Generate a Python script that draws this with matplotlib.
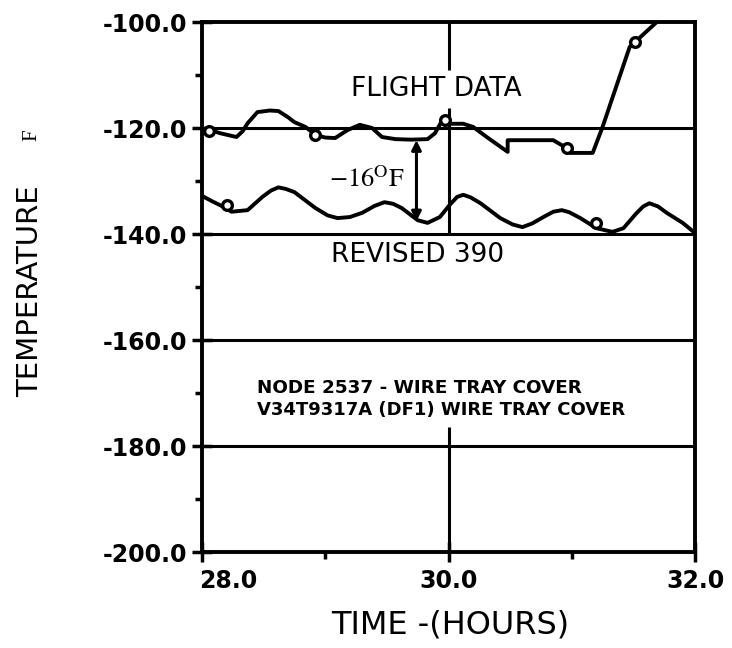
import matplotlib
matplotlib.use("Agg")
import matplotlib.pyplot as plt
from matplotlib import font_manager as fm
from matplotlib.transforms import ScaledTranslation

# ---------------- data ----------------
flight_t = [28.05, 28.15, 28.28, 28.33, 28.37, 28.45, 28.55, 28.62, 28.70, 28.75, 28.84, 28.92,
            29.00, 29.08, 29.18, 29.28, 29.38, 29.46, 29.57, 29.70, 29.83, 29.89, 29.96,
            30.01, 30.12, 30.20, 30.31, 30.48, 30.48, 30.70, 30.85, 30.96, 30.99, 31.17,
            31.25, 31.47, 31.69]
flight_v = [-120.3, -121.0, -121.7, -120.6, -119.1, -117.0, -116.7, -116.8, -118.0, -118.9, -119.8, -121.3,
            -121.8, -121.9, -120.4, -119.4, -120.0, -121.7, -122.1, -122.2, -122.1, -121.0, -118.1,
            -119.2, -119.2, -119.8, -121.7, -124.5, -122.3, -122.3, -122.3, -123.8, -124.7, -124.7,
            -119.8, -104.7, -100.0]

rev_t = [28.00, 28.08, 28.15, 28.24, 28.37, 28.49, 28.56, 28.62, 28.68, 28.75, 28.92, 29.02,
         29.10, 29.20, 29.30, 29.40, 29.48, 29.55, 29.62, 29.75, 29.83, 29.93, 30.01, 30.07,
         30.12, 30.18, 30.26, 30.42, 30.52, 30.60, 30.68, 30.77, 30.85, 30.92, 30.98, 31.07,
         31.20, 31.33, 31.42, 31.52, 31.58, 31.63, 31.70, 31.77, 31.90, 32.00]
rev_v = [-132.8, -133.8, -134.6, -135.8, -135.5, -133.0, -131.8, -131.2, -131.5, -132.1, -135.1, -136.5,
         -137.0, -136.8, -136.0, -134.7, -134.0, -134.3, -135.1, -137.4, -137.9, -136.8, -134.5, -133.0,
         -132.6, -133.1, -134.2, -137.0, -138.2, -138.7, -138.0, -136.8, -135.8, -135.5, -135.9, -137.0,
         -138.9, -139.6, -138.9, -136.2, -134.8, -134.2, -134.8, -136.0, -137.9, -139.8]

flight_mark_t = [28.06, 28.92, 29.97, 30.96, 31.51]
flight_mark_v = [-120.5, -121.3, -118.4, -123.8, -103.8]
rev_mark_t = [28.20, 31.20]
rev_mark_v = [-134.6, -138.0]

x_ticks = [28.0, 30.0, 32.0]
x_minor = [29.0, 31.0]
y_ticks = [-200.0, -180.0, -160.0, -140.0, -120.0, -100.0]
y_minor = [-190.0, -170.0, -150.0, -130.0, -110.0]
grid_levels = [-120.0, -140.0, -160.0, -180.0]

delta_t = 29.74
delta_top = -122.3
delta_bottom = -137.6

# ---------------- fonts ----------------
avail = {f.name for f in fm.fontManager.ttflist}
def pick(names):
    for n in names:
        if n in avail:
            return n
    return "DejaVu Sans"
sans = pick(["DejaVu Sans Condensed", "Liberation Sans Narrow", "DejaVu Sans"])
serif = pick(["Liberation Serif", "DejaVu Serif"])
plt.rcParams["font.family"] = [sans, "DejaVu Sans"]
plt.rcParams["mathtext.fontset"] = "stix"

# ---------------- figure ----------------
fig = plt.figure(figsize=(7.32, 6.48), dpi=100)
ax = fig.add_axes([202/732, 1-552/648, (695-202)/732, (552-22)/648])

lw_curve = 2.8
lw_grid = 2.2

# horizontal grid lines
for g in grid_levels:
    ax.axhline(g, color="black", lw=lw_grid, zorder=1)
# vertical line at t = 30 (interrupted around the texts)
ax.vlines(30.0, -109.0, -100.0, color="black", lw=lw_grid, zorder=1)
ax.vlines(30.0, -140.0, -116.2, color="black", lw=lw_grid, zorder=1)
ax.vlines(30.0, -200.0, -176.4, color="black", lw=lw_grid, zorder=1)

ax.plot(flight_t, flight_v, color="black", lw=lw_curve, solid_joinstyle="round",
        solid_capstyle="round", zorder=3, clip_on=True)
ax.plot(rev_t, rev_v, color="black", lw=lw_curve, solid_joinstyle="round",
        solid_capstyle="round", zorder=3)
ax.plot(flight_mark_t, flight_mark_v, ls="none", marker="o", ms=7, mfc="white",
        mec="black", mew=2.4, zorder=4)
ax.plot(rev_mark_t, rev_mark_v, ls="none", marker="o", ms=7, mfc="white",
        mec="black", mew=2.4, zorder=4)

# delta arrow
ax.annotate("", xy=(delta_t, delta_bottom), xytext=(delta_t, delta_top),
            arrowprops=dict(arrowstyle="<|-|>", color="black", lw=2.2,
                            mutation_scale=14, shrinkA=0, shrinkB=0), zorder=5)
ax.text(29.34, -129.8, r"$-16^{\mathrm{O}}\mathrm{F}$", fontsize=19,
        ha="center", va="center", zorder=5)

ax.text(29.90, -112.6, "FLIGHT DATA", fontsize=19, ha="center", va="center")
ax.text(29.75, -143.9, "REVISED 390", fontsize=19, ha="center", va="center")
ax.text(28.45, -169.1, "NODE 2537 - WIRE TRAY COVER", fontsize=13.2, fontweight="bold",
        ha="left", va="center")
ax.text(28.45, -173.3, "V34T9317A (DF1) WIRE TRAY COVER", fontsize=13, fontweight="bold",
        ha="left", va="center")

# axes
ax.set_xlim(28.0, 32.0)
ax.set_ylim(-200.0, -100.0)
ax.set_xticks(x_ticks)
ax.set_xticklabels([f"{v:.1f}" for v in x_ticks])
ax.set_xticks(x_minor, minor=True)
ax.set_yticks(y_ticks)
ax.set_yticklabels([f"{v:.1f}" for v in y_ticks])
ax.set_yticks(y_minor, minor=True)
for lab in ax.get_xticklabels() + ax.get_yticklabels():
    lab.set_fontweight("bold")
ax.tick_params(which="major", direction="inout", length=15, width=2.5,
               labelsize=17, pad=3)
ax.tick_params(axis="x", which="major", pad=5)
ax.tick_params(which="minor", direction="out", length=5, width=2.5)
for s in ax.spines.values():
    s.set_linewidth(2.8)

# first x tick label sits to the right of its tick in the reference
first = ax.get_xticklabels()[0]
first.set_horizontalalignment("left")
first.set_transform(first.get_transform() + ScaledTranslation(-3/100, 0, fig.dpi_scale_trans))

ax.set_xlabel("TIME -(HOURS)", fontsize=23)
ax.xaxis.set_label_coords(0.503, -0.138)
ax.xaxis.label.set_va("center")
ax.set_ylabel("TEMPERATURE", fontsize=21)
ax.yaxis.set_label_coords(-0.349, 0.492)
ax.yaxis.label.set_va("center")
fig.text(32/732, 1-135/648, "F", fontsize=15, family=serif, rotation=90,
         ha="center", va="center")

fig.savefig("out.png", dpi=100)
